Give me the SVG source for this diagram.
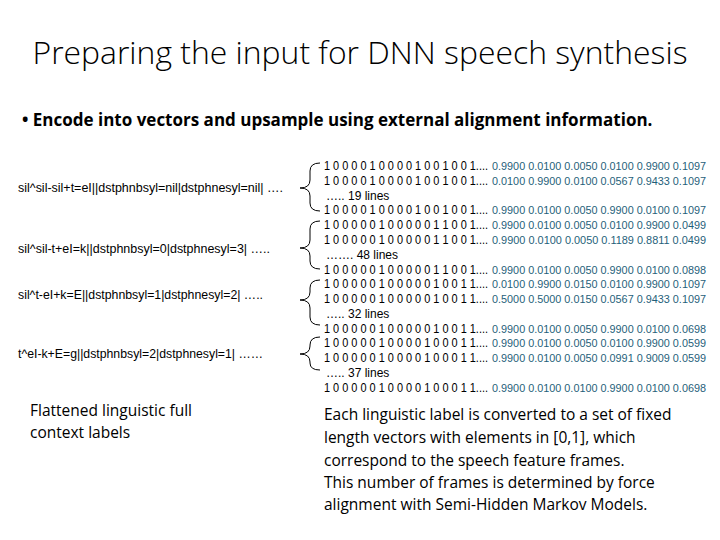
<svg xmlns="http://www.w3.org/2000/svg" width="720" height="540" viewBox="0 0 720 540">
<style>
.t{font-family:"Open Sans","Liberation Sans",sans-serif;fill:#000}
.s{font-family:"Liberation Sans",sans-serif;font-size:12px;fill:#000}
.b{font-family:"Liberation Sans",sans-serif;font-size:12.5px;fill:#000}
.v{font-family:"Liberation Sans",sans-serif;font-size:11px;fill:#1f5f7a}
.br{fill:none;stroke:#000;stroke-width:1}
</style>
<rect width="720" height="540" fill="#fff"/>
<text class="t" x="360" y="64" font-size="32" font-weight="300" text-anchor="middle" textLength="655" lengthAdjust="spacingAndGlyphs">Preparing the input for DNN speech synthesis</text>
<text class="t" x="22" y="126" font-size="17" font-weight="bold">• Encode into vectors and upsample using external alignment information.</text>
<g id="labels">
<text class="s" x="18" y="192" textLength="265" lengthAdjust="spacingAndGlyphs">sil^sil-sil+t=eI||dstphnbsyl=nil|dstphnesyl=nil| ….</text>
<text class="s" x="18" y="253" textLength="252" lengthAdjust="spacingAndGlyphs">sil^sil-t+eI=k||dstphnbsyl=0|dstphnesyl=3| …..</text>
<text class="s" x="18" y="299" textLength="245" lengthAdjust="spacingAndGlyphs">sil^t-eI+k=E||dstphnbsyl=1|dstphnesyl=2| …..</text>
<text class="s" x="18" y="358" textLength="245" lengthAdjust="spacingAndGlyphs">t^eI-k+E=g||dstphnbsyl=2|dstphnesyl=1| ……</text>
</g>
<g id="connectors">
<path class="br" d="M320,163 Q310,163 310,171 L310,180 Q310,188 300,188 Q310,188 310,196 L310,203 Q310,211 320,211"/>
<path class="br" d="M320,221 Q310,221 310,229 L310,240 Q310,248 300,248 Q310,248 310,256 L310,261 Q310,269 320,269"/>
<path class="br" d="M320,280 Q310,280 310,288 L310,292 Q310,300 300,300 Q310,300 310,308 L310,317 Q310,325 320,325"/>
<path class="br" d="M320,337 Q310,337 310,345 L310,346 Q310,354 300,354 Q310,354 310,362 L310,363 Q310,370 320,370"/>
</g>
<g id="rows">
<text class="b" x="324" y="170" textLength="164" lengthAdjust="spacingAndGlyphs">1 0 0 0 0 1 0 0 0 0 1 0 0 1 0 0 1....</text><text class="v" x="492" y="170" textLength="214" lengthAdjust="spacingAndGlyphs">0.9900 0.0100 0.0050 0.0100 0.9900 0.1097</text>
<text class="b" x="324" y="185" textLength="164" lengthAdjust="spacingAndGlyphs">1 0 0 0 0 1 0 0 0 0 1 0 0 1 0 0 1....</text><text class="v" x="492" y="185" textLength="214" lengthAdjust="spacingAndGlyphs">0.0100 0.9900 0.0100 0.0567 0.9433 0.1097</text>
<text class="s" x="326" y="200" font-size="11">…..   19 lines</text>
<text class="b" x="324" y="214" textLength="164" lengthAdjust="spacingAndGlyphs">1 0 0 0 0 1 0 0 0 0 1 0 0 1 0 0 1....</text><text class="v" x="492" y="214" textLength="214" lengthAdjust="spacingAndGlyphs">0.9900 0.0100 0.0050 0.9900 0.0100 0.1097</text>
<text class="b" x="324" y="229" textLength="164" lengthAdjust="spacingAndGlyphs">1 0 0 0 0 0 1 0 0 0 0 0 1 1 0 0 1....</text><text class="v" x="492" y="229" textLength="214" lengthAdjust="spacingAndGlyphs">0.9900 0.0100 0.0050 0.0100 0.9900 0.0499</text>
<text class="b" x="324" y="244" textLength="164" lengthAdjust="spacingAndGlyphs">1 0 0 0 0 0 1 0 0 0 0 0 1 1 0 0 1....</text><text class="v" x="492" y="244" textLength="214" lengthAdjust="spacingAndGlyphs">0.9900 0.0100 0.0050 0.1189 0.8811 0.0499</text>
<text class="s" x="326" y="259" font-size="11">…….   48 lines</text>
<text class="b" x="324" y="274" textLength="164" lengthAdjust="spacingAndGlyphs">1 0 0 0 0 0 1 0 0 0 0 0 1 1 0 0 1....</text><text class="v" x="492" y="274" textLength="214" lengthAdjust="spacingAndGlyphs">0.9900 0.0100 0.0050 0.9900 0.0100 0.0898</text>
<text class="b" x="324" y="288" textLength="164" lengthAdjust="spacingAndGlyphs">1 0 0 0 0 0 1 0 0 0 0 0 1 0 0 1 1....</text><text class="v" x="492" y="288" textLength="214" lengthAdjust="spacingAndGlyphs">0.0100 0.9900 0.0150 0.0100 0.9900 0.1097</text>
<text class="b" x="324" y="303" textLength="164" lengthAdjust="spacingAndGlyphs">1 0 0 0 0 0 1 0 0 0 0 0 1 0 0 1 1....</text><text class="v" x="492" y="303" textLength="214" lengthAdjust="spacingAndGlyphs">0.5000 0.5000 0.0150 0.0567 0.9433 0.1097</text>
<text class="s" x="326" y="318" font-size="11">…..   32 lines</text>
<text class="b" x="324" y="333" textLength="164" lengthAdjust="spacingAndGlyphs">1 0 0 0 0 0 1 0 0 0 0 0 1 0 0 1 1....</text><text class="v" x="492" y="333" textLength="214" lengthAdjust="spacingAndGlyphs">0.9900 0.0100 0.0050 0.9900 0.0100 0.0698</text>
<text class="b" x="324" y="347" textLength="164" lengthAdjust="spacingAndGlyphs">1 0 0 0 0 0 1 0 0 0 0 1 0 0 0 1 1....</text><text class="v" x="492" y="347" textLength="214" lengthAdjust="spacingAndGlyphs">0.9900 0.0100 0.0050 0.0100 0.9900 0.0599</text>
<text class="b" x="324" y="362" textLength="164" lengthAdjust="spacingAndGlyphs">1 0 0 0 0 0 1 0 0 0 0 1 0 0 0 1 1....</text><text class="v" x="492" y="362" textLength="214" lengthAdjust="spacingAndGlyphs">0.9900 0.0100 0.0050 0.0991 0.9009 0.0599</text>
<text class="s" x="326" y="377" font-size="11">….. 37 lines</text>
<text class="b" x="324" y="392" textLength="164" lengthAdjust="spacingAndGlyphs">1 0 0 0 0 0 1 0 0 0 0 1 0 0 0 1 1....</text><text class="v" x="492" y="392" textLength="214" lengthAdjust="spacingAndGlyphs">0.9900 0.0100 0.0100 0.9900 0.0100 0.0698</text>
</g>
<text class="t" x="30" y="416" font-size="15.5">Flattened linguistic full</text>
<text class="t" x="30" y="438" font-size="15.5">context labels</text>
<g font-size="15.5">
<text class="t" x="324" y="420">Each linguistic label is converted to a set of fixed</text>
<text class="t" x="324" y="443">length vectors with elements in [0,1], which</text>
<text class="t" x="324" y="466">correspond to the speech feature frames.</text>
<text class="t" x="324" y="488">This number of frames is determined by force</text>
<text class="t" x="324" y="510">alignment with Semi-Hidden Markov Models.</text>
</g>
</svg>
